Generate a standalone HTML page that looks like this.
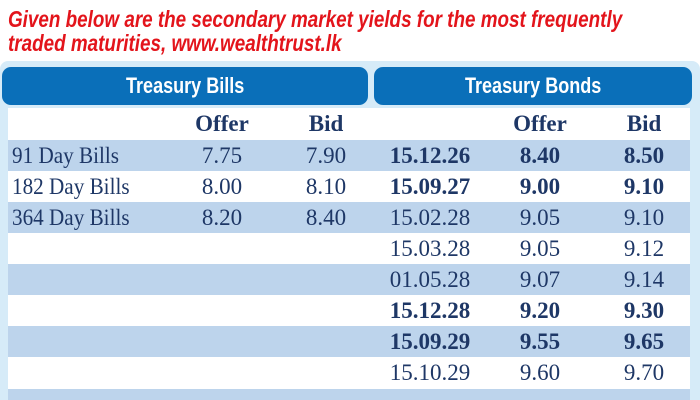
<!DOCTYPE html>
<html><head><style>
body{margin:0;width:700px;height:400px;overflow:hidden;background:#fff;position:relative;font-family:"Liberation Serif",serif}
.t{position:absolute;left:8px;color:#e3141b;font-family:"Liberation Sans Narrow","Liberation Sans",sans-serif;font-weight:bold;font-style:italic;font-size:23px;white-space:nowrap;transform-origin:0 0;line-height:22px}
.frame{position:absolute;left:0;top:61px;width:700px;height:339px;background:#d6ebf8;border-radius:8px 8px 0 0}
.hb{position:absolute;top:67px;height:38px;background:#0a6fb9;border-radius:9px;color:#fff;font-family:"Liberation Sans",sans-serif;font-weight:bold;font-size:22px;text-align:center;line-height:38px}
.hb span{display:inline-block;transform:scaleX(0.82)}
.row{position:absolute;left:8px;width:682px}
.c{position:absolute;color:#1e3766;font-size:23px;text-align:center;width:120px;line-height:28px}
.c.l{transform:scaleX(0.92);transform-origin:0 0}
.b{font-weight:bold}
</style></head><body>
<div class="t" style="top:8px;transform:scaleX(0.82)">Given below are the secondary market yields for the most frequently</div>
<div class="t" style="top:32px;transform:scaleX(0.82)">traded maturities, www.wealthtrust.lk</div>
<div class="frame"></div>
<div class="hb" style="left:2px;width:366px"><span>Treasury Bills</span></div>
<div class="hb" style="left:374px;width:318px"><span>Treasury Bonds</span></div>
<div class="row" style="top:108px;height:32px;background:#fff"></div>
<div class="row" style="top:140px;height:31px;background:#bdd4ec"></div>
<div class="row" style="top:171px;height:31px;background:#fff"></div>
<div class="row" style="top:202px;height:31px;background:#bdd4ec"></div>
<div class="row" style="top:233px;height:31px;background:#fff"></div>
<div class="row" style="top:264px;height:31px;background:#bdd4ec"></div>
<div class="row" style="top:295px;height:31px;background:#fff"></div>
<div class="row" style="top:326px;height:31px;background:#bdd4ec"></div>
<div class="row" style="top:357px;height:32px;background:#fff"></div>
<div class="row" style="top:389px;height:11px;background:#bdd4ec"></div>

<div class="c b" style="left:162px;top:110px">Offer</div>
<div class="c b" style="left:266px;top:110px">Bid</div>
<div class="c b" style="left:480px;top:110px">Offer</div>
<div class="c b" style="left:584px;top:110px">Bid</div>

<div class="c l" style="left:12px;top:142px;text-align:left;width:170px">91 Day Bills</div>
<div class="c" style="left:162px;top:142px">7.75</div>
<div class="c" style="left:266px;top:142px">7.90</div>
<div class="c l" style="left:12px;top:173px;text-align:left;width:170px">182 Day Bills</div>
<div class="c" style="left:162px;top:173px">8.00</div>
<div class="c" style="left:266px;top:173px">8.10</div>
<div class="c l" style="left:12px;top:204px;text-align:left;width:170px">364 Day Bills</div>
<div class="c" style="left:162px;top:204px">8.20</div>
<div class="c" style="left:266px;top:204px">8.40</div>

<div class="c b" style="left:370px;top:142px">15.12.26</div><div class="c b" style="left:480px;top:142px">8.40</div><div class="c b" style="left:584px;top:142px">8.50</div>
<div class="c b" style="left:370px;top:173px">15.09.27</div><div class="c b" style="left:480px;top:173px">9.00</div><div class="c b" style="left:584px;top:173px">9.10</div>
<div class="c" style="left:370px;top:204px">15.02.28</div><div class="c" style="left:480px;top:204px">9.05</div><div class="c" style="left:584px;top:204px">9.10</div>
<div class="c" style="left:370px;top:235px">15.03.28</div><div class="c" style="left:480px;top:235px">9.05</div><div class="c" style="left:584px;top:235px">9.12</div>
<div class="c" style="left:370px;top:266px">01.05.28</div><div class="c" style="left:480px;top:266px">9.07</div><div class="c" style="left:584px;top:266px">9.14</div>
<div class="c b" style="left:370px;top:297px">15.12.28</div><div class="c b" style="left:480px;top:297px">9.20</div><div class="c b" style="left:584px;top:297px">9.30</div>
<div class="c b" style="left:370px;top:328px">15.09.29</div><div class="c b" style="left:480px;top:328px">9.55</div><div class="c b" style="left:584px;top:328px">9.65</div>
<div class="c" style="left:370px;top:359px">15.10.29</div><div class="c" style="left:480px;top:359px">9.60</div><div class="c" style="left:584px;top:359px">9.70</div>
</body></html>
